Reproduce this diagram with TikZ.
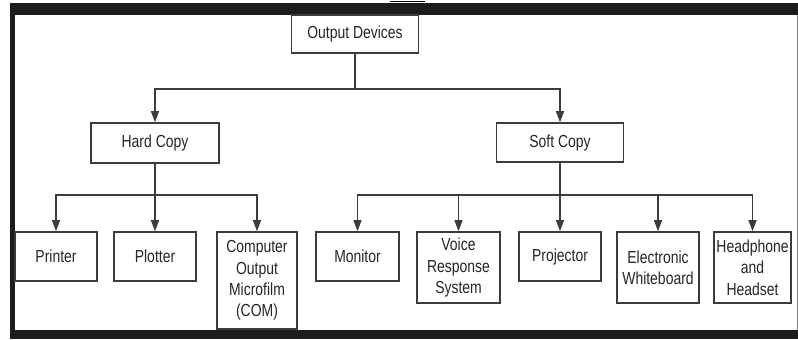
\documentclass[tikz,border=0pt]{standalone}
\usepackage{fontspec}
\usepackage{tikz}
\usetikzlibrary{arrows.meta, positioning}
\newfontfamily\boxfont{Liberation Sans}[FakeStretch=0.8]
\definecolor{linegray}{HTML}{3C3C3C}
\definecolor{framegray}{HTML}{1C1C1C}

\begin{document}
\begin{tikzpicture}[x=1bp, y=-1bp,
    box/.style = {draw=linegray, line width=1.6bp, fill=white, inner sep=0pt, align=center,
                  text=black!85, font=\boxfont\fontsize{17.5}{21.5}\selectfont},
    elbow/.style = {to path={-| (\tikztotarget)}}]
                \useasboundingbox (0,0) rectangle (798,339);
                % frame round the picture
                \fill[white] (0,0) rectangle (798,339);
                \fill[framegray] (10,3) rectangle (798,15);
                \fill[framegray] (10,3) rectangle (15,339);
                \fill[framegray] (10,330) rectangle (798,339);
                \draw[gray, line width=1bp] (797,15) -- (797,330);
                \draw[black, line width=0.8bp] (390,1) -- (425,1);

                \begin{scope}[every node/.style = {box}]
                  \node[minimum width=127bp, minimum height=38bp] (outdev) at (355,34) {Output Devices};
                  \node[minimum width=128bp, minimum height=40bp] (hard) at (155,143) {Hard Copy};
                  \node[minimum width=127bp, minimum height=39bp] (soft) at (560,142.5) {Soft Copy};

                  \node[minimum width=82bp, minimum height=49bp] (printer) at (56,256.5) {Printer};
                  \node[minimum width=82bp, minimum height=49bp] (plotter) at (155,256.5) {Plotter};
                  \node[minimum width=80bp, minimum height=97bp] (com) at (257,280.5) {Computer\\Output\\Microfilm\\(COM)};
                  \node[minimum width=83bp, minimum height=49bp] (monitor) at (357.5,256.5) {Monitor};
                  \node[minimum width=83bp, minimum height=71bp] (voice) at (458.5,267.5) {Voice\\Response\\System};
                  \node[minimum width=82bp, minimum height=49bp] (projector) at (560,256.5) {Projector};
                  \node[minimum width=82bp, minimum height=71bp] (board) at (658,267.5) {Electronic\\Whiteboard};
                  \node[minimum width=77bp, minimum height=71bp] (headset) at (752.5,267.5) {Headphone\\and\\Headset};
                \end{scope}

                \coordinate (top) at (355,89);
                \coordinate (hardbus) at (155,195);
                \coordinate (softbus) at (560,195);

                \begin{scope}[every edge/.style={draw=linegray, line width=1.4bp,
                                                 -{Triangle[length=11bp,width=8bp]}}]
                  \path (outdev) edge[-] (top);
                  \path (top) edge[elbow] (hard);
                  \path (top) edge[elbow] (soft);
                  \path (hard) edge (plotter);
                  \path (hardbus) edge[elbow] (printer);
                  \path (hardbus) edge[elbow] (com);
                  \path (soft) edge (projector);
                  \path (softbus) edge[elbow] (monitor);
                  \path (softbus) edge[elbow] (voice);
                  \path (softbus) edge[elbow] (board);
                  \path (softbus) edge[elbow] (headset);
                \end{scope}
              \end{tikzpicture}
\end{document}
